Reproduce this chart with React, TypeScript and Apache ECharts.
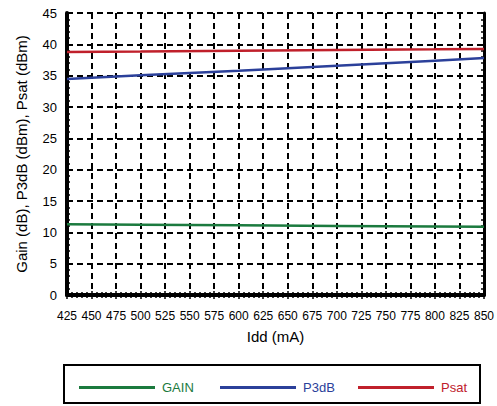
import React, { useEffect, useRef } from "react";
import * as echarts from "echarts";

const idd = [425, 500, 600, 700, 800, 850];
const gain = [11.3, 11.22, 11.12, 11.03, 10.95, 10.9];
const p3db = [34.45, 35.05, 35.8, 36.6, 37.4, 37.8];
const psat = [38.78, 38.85, 38.97, 39.08, 39.2, 39.27];
const seriesNames = ["GAIN", "P3dB", "Psat"];
const seriesColors = ["#1b7a3e", "#2b409a", "#c0202b"];

const FONT = "Liberation Sans, Arial, Helvetica, sans-serif";

export default function App() {
  const ref = useRef<HTMLDivElement>(null);
  useEffect(() => {
    if (!ref.current) return;
    const chart = echarts.init(ref.current, null, { renderer: "svg" });
    const dashed = { color: "#000", width: 2, type: [6, 4] as number[] };
    const xCommon = {
      type: "value" as const,
      min: 425,
      max: 850,
      interval: 25,
      axisTick: { show: true, inside: true, length: 4, lineStyle: { color: "#000", width: 1.5 } },
      minorTick: { show: true, splitNumber: 5, length: 3, lineStyle: { color: "#000", width: 1.5 } },
    };
    const yCommon = {
      type: "value" as const,
      min: 0,
      max: 45,
      interval: 5,
      axisTick: { show: true, inside: true, length: 4, lineStyle: { color: "#000", width: 1.5 } },
      minorTick: { show: true, splitNumber: 5, length: 3, lineStyle: { color: "#000", width: 1.5 } },
    };
    const mk = (data: number[]) => idd.map((x, i) => [x, data[i]]);
    const values = [gain, p3db, psat];
    const legendLefts = [79, 220, 358];
    chart.setOption({
      animation: false,
      textStyle: { fontFamily: FONT },
      grid: { left: 67, top: 13, right: 12, bottom: 111, show: false },
      xAxis: [
        {
          ...xCommon,
          position: "bottom",
          name: "Idd (mA)",
          nameLocation: "middle",
          nameGap: 34,
          nameTextStyle: { fontSize: 15, color: "#000", fontFamily: FONT },
          axisLine: { show: true, lineStyle: { color: "#000", width: 4 } },
          axisLabel: { fontSize: 12, color: "#000", margin: 15, fontFamily: FONT },
          splitLine: { show: true, lineStyle: dashed },
        },
        {
          ...xCommon,
          position: "top",
          axisLine: { show: true, lineStyle: { color: "#000", width: 3 } },
          axisLabel: { show: false },
          splitLine: { show: false },
        },
      ],
      yAxis: [
        {
          ...yCommon,
          position: "left",
          name: "Gain (dB), P3dB (dBm), Psat (dBm)",
          nameLocation: "middle",
          nameGap: 38,
          nameTextStyle: { fontSize: 15, color: "#000", fontFamily: FONT },
          axisLine: { show: true, lineStyle: { color: "#000", width: 4 } },
          axisLabel: { fontSize: 13, color: "#000", margin: 10, fontFamily: FONT },
          splitLine: { show: true, lineStyle: dashed },
        },
        {
          ...yCommon,
          position: "right",
          axisLine: { show: true, lineStyle: { color: "#000", width: 3 } },
          axisLabel: { show: false },
          splitLine: { show: false },
        },
      ],
      legend: seriesNames.map((n, i) => ({
        left: legendLefts[i],
        top: 381,
        icon: "rect",
        itemWidth: 76,
        itemHeight: 3,
        padding: 0,
        data: [{ name: n }],
        textStyle: { color: seriesColors[i], fontSize: 13, fontFamily: FONT, padding: [0, 0, 0, 2] },
      })),
      graphic: [
        {
          type: "rect",
          shape: { x: 64, y: 365, width: 416, height: 38 },
          style: { fill: "none", stroke: "#000", lineWidth: 2 },
          silent: true,
        },
      ],
      series: seriesNames.map((n, i) => ({
        name: n,
        type: "line",
        xAxisIndex: 0,
        yAxisIndex: 0,
        data: mk(values[i]),
        symbol: "none",
        lineStyle: { color: seriesColors[i], width: 2.5 },
        itemStyle: { color: seriesColors[i] },
        z: 5,
      })),
    });
    return () => chart.dispose();
  }, []);
  return (
    <div
      ref={ref}
      style={{ position: "absolute", left: 0, top: 0, width: 497, height: 406, background: "#fff" }}
    />
  );
}
